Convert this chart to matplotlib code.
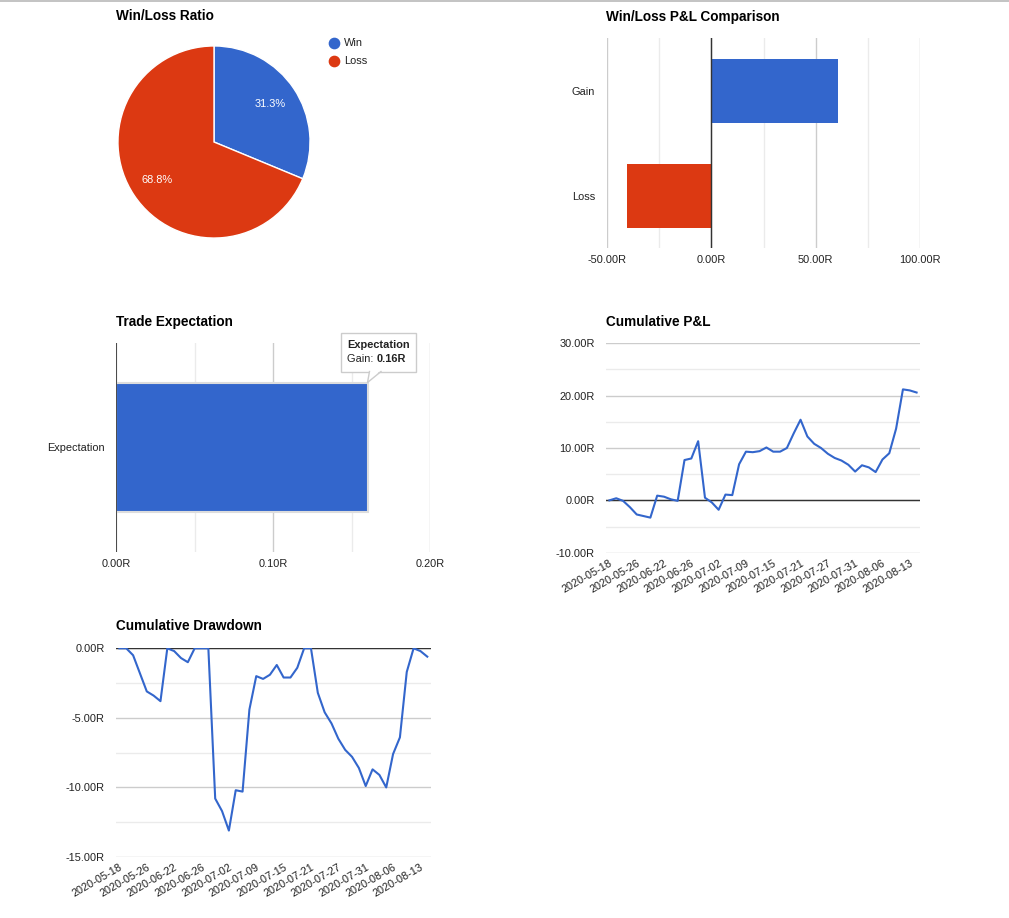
import matplotlib
matplotlib.use('Agg')
import matplotlib.pyplot as plt
from matplotlib.lines import Line2D
from matplotlib.patches import Polygon, Rectangle
from matplotlib.ticker import MultipleLocator, FuncFormatter

plt.rcParams['font.family'] = ['Liberation Sans', 'DejaVu Sans']

W, H = 1009, 918
BLUE = '#3366cc'
RED = '#dc3912'
FS = 7.9        # ~11px
TITLE_FS = 9.8  # ~13.6px
TXT = '#222222'

######################### data ################################################
WIN_LOSS_LABELS = ['Win', 'Loss']
WIN_LOSS_COUNTS = [5, 11]

PNL_CATEGORIES = ['Gain', 'Loss']
PNL_VALUES = [60.8, -40.5]

EXPECTATION_LABEL = 'Expectation'
EXPECTATION = 0.16

TICK_DATES = ['2020-05-18', '2020-05-26', '2020-06-22', '2020-06-26', '2020-07-02', '2020-07-09',
              '2020-07-15', '2020-07-21', '2020-07-27', '2020-07-31', '2020-08-06', '2020-08-13']

CUM_PNL = [0.0, 0.4, -0.1, -1.3, -2.7, -3.0, -3.3, 0.9, 0.7, 0.2,
           -0.1, 7.7, 8.0, 11.3, 0.5, -0.4, -1.8, 1.1, 1.0, 6.9,
           9.3, 9.2, 9.4, 10.1, 9.3, 9.3, 10.0, 12.8, 15.4, 12.2,
           10.8, 10.0, 8.9, 8.1, 7.6, 6.8, 5.5, 6.7, 6.3, 5.4,
           7.8, 9.0, 13.7, 21.2, 21.0, 20.6]

DRAWDOWN = [0.0, 0.0, -0.5, -1.8, -3.1, -3.4, -3.8, 0.0, -0.2, -0.7,
            -1.0, 0.0, 0.0, 0.0, -10.8, -11.7, -13.1, -10.2, -10.3, -4.4,
            -2.0, -2.2, -1.9, -1.2, -2.1, -2.1, -1.4, 0.0, 0.0, -3.2,
            -4.6, -5.4, -6.5, -7.3, -7.8, -8.6, -9.9, -8.7, -9.1, -10.0,
            -7.6, -6.4, -1.7, 0.0, -0.2, -0.6]


def box(l, t, r, b):
    # pixel box (from top-left) -> figure fraction rect
    return [l / W, 1 - b / H, (r - l) / W, (b - t) / H]


def r_fmt(dec):
    return FuncFormatter(lambda v, p: f'{v + 0.0:.{dec}f}R')


def no_spines(ax):
    for s in ax.spines.values():
        s.set_visible(False)


fig = plt.figure(figsize=(W / 100, H / 100), dpi=100)
fig.add_artist(Rectangle((0, 1 - 2 / H), 1, 2 / H, transform=fig.transFigure, color='#c4c4c4', lw=0))

titles = [('Win/Loss Ratio', 116, 20.5), ('Win/Loss P&L Comparison', 606, 20.5),
          ('Trade Expectation', 116, 325.5), ('Cumulative P&L', 606, 325.5),
          ('Cumulative Drawdown', 116, 630.5)]
for t, x, y in titles:
    fig.text(x / W, 1 - y / H, t, fontsize=TITLE_FS, fontweight='bold', va='baseline', color='black')

########################## pie ################################################
ax1 = fig.add_axes(box(117, 45, 311, 239))
ax1.pie(WIN_LOSS_COUNTS, colors=[BLUE, RED], startangle=90, counterclock=False,
        autopct=lambda p: f'{p + 1e-6:.1f}%', pctdistance=0.71,
        wedgeprops=dict(edgecolor='white', linewidth=1),
        textprops=dict(color='white', fontsize=FS))
ax1.set_xlim(-1.01, 1.01)
ax1.set_ylim(-1.01, 1.01)

for i, (lab, c) in enumerate(zip(WIN_LOSS_LABELS, [BLUE, RED])):
    y = 43 + i * 18
    fig.add_artist(Line2D([334 / W], [1 - y / H], marker='o', ms=7.4, color=c, ls='',
                          transform=fig.transFigure))
    fig.text(344 / W, 1 - y / H, lab, fontsize=FS, color=TXT, va='center')

########################## P&L comparison #####################################
ax2 = fig.add_axes(box(606.7, 38.3, 920.3, 248.3))
ax2.barh(range(len(PNL_VALUES)), PNL_VALUES, height=0.613, color=[BLUE, RED], zorder=2)
ax2.set_xlim(-50, 100)
ax2.set_ylim(1.5, -0.5)
ax2.xaxis.set_major_locator(MultipleLocator(50))
ax2.xaxis.set_minor_locator(MultipleLocator(25))
ax2.xaxis.set_major_formatter(r_fmt(2))
ax2.grid(which='major', axis='x', color='#cccccc', lw=1)
ax2.grid(which='minor', axis='x', color='#ebebeb', lw=1)
ax2.axvline(0, color='#333333', lw=1, zorder=3)
ax2.set_yticks(range(len(PNL_CATEGORIES)))
ax2.set_yticklabels(PNL_CATEGORIES)
ax2.tick_params(which='both', length=0, labelsize=FS, labelcolor=TXT)
ax2.tick_params(axis='y', pad=8.5)
ax2.tick_params(axis='x', pad=5)
ax2.set_axisbelow(True)
no_spines(ax2)

########################## expectation ########################################
ax3 = fig.add_axes(box(116.3, 342.7, 430.3, 552.3))
ax3.barh([0], [EXPECTATION], height=0.62, color=BLUE, edgecolor='#dddddd', lw=1.5, zorder=2)
ax3.set_xlim(0, 0.2)
ax3.set_ylim(-0.5, 0.5)
ax3.xaxis.set_major_locator(MultipleLocator(0.1))
ax3.xaxis.set_minor_locator(MultipleLocator(0.05))
ax3.xaxis.set_major_formatter(r_fmt(2))
ax3.grid(which='major', axis='x', color='#cccccc', lw=1)
ax3.grid(which='minor', axis='x', color='#ebebeb', lw=1)
ax3.axvline(0, color='#333333', lw=1.2, zorder=3)
ax3.set_yticks([0])
ax3.set_yticklabels([EXPECTATION_LABEL])
ax3.tick_params(which='both', length=0, labelsize=FS, labelcolor=TXT)
ax3.tick_params(axis='y', pad=8)
ax3.tick_params(axis='x', pad=5)
ax3.set_axisbelow(True)
no_spines(ax3)

# tooltip anchored at the end of the bar
ax_x, ax_y = ax3.transData.transform((EXPECTATION, 0.31))
bl, br, bb, bt = ax_x - 26.6, ax_x + 48.7, ax_y + 11, ax_y + 49.4
fig.add_artist(Rectangle(((bl + 1) / W, (bb - 1.5) / H), (br - bl) / W, (bt - bb) / H,
                         transform=fig.transFigure, facecolor='#e6e6e6', edgecolor='none', zorder=10))
fig.add_artist(Rectangle((bl / W, bb / H), (br - bl) / W, (bt - bb) / H,
                         transform=fig.transFigure, facecolor='white', edgecolor='#cccccc', lw=1, zorder=11))
ptr = [(ax_x, ax_y), (ax_x + 2, bb), (ax_x + 13.5, bb)]
fig.add_artist(Polygon([(px / W, py / H) for px, py in [(ax_x, ax_y), (ax_x + 2, bb + 1.5), (ax_x + 13.5, bb + 1.5)]],
                       closed=True, transform=fig.transFigure, facecolor='white', edgecolor='none', zorder=12))
fig.add_artist(Line2D([ptr[1][0] / W, ptr[0][0] / W, ptr[2][0] / W], [ptr[1][1] / H, ptr[0][1] / H, ptr[2][1] / H],
                      transform=fig.transFigure, color='#cccccc', lw=1, zorder=13))
fig.text((ax_x - 20.3) / W, (ax_y + 37.7) / H, 'Expectation', fontsize=FS, fontweight='bold',
         va='center', color=TXT, zorder=14)
fig.text((ax_x - 20.3) / W, (ax_y + 23.7) / H, 'Gain: ', fontsize=FS, va='center', color=TXT, zorder=14)
fig.text((ax_x + 9.4) / W, (ax_y + 23.7) / H, f'{EXPECTATION:.2f}R', fontsize=FS, fontweight='bold',
         va='center', color=TXT, zorder=14)


########################## line charts ########################################
def line_chart(ax, values, ymin, ymax, step):
    ax.plot(range(len(values)), values, color=BLUE, lw=1.5, zorder=4)
    ax.set_xlim(-0.5, len(values) - 0.5)
    ax.set_ylim(ymin, ymax)
    ax.yaxis.set_major_locator(MultipleLocator(step))
    ax.yaxis.set_minor_locator(MultipleLocator(step / 2))
    ax.yaxis.set_major_formatter(r_fmt(2))
    ax.grid(which='major', axis='y', color='#cccccc', lw=1)
    ax.grid(which='minor', axis='y', color='#ebebeb', lw=1)
    ax.axhline(0, color='#333333', lw=1, zorder=3)
    ax.set_xticks(range(0, len(values), 4))
    ax.set_xticklabels(TICK_DATES, rotation=30, ha='right', va='top', rotation_mode='anchor')
    ax.tick_params(which='both', length=0, labelsize=FS, labelcolor=TXT)
    ax.tick_params(axis='y', pad=8)
    ax.tick_params(axis='x', pad=4)
    ax.set_axisbelow(True)
    no_spines(ax)


ax4 = fig.add_axes(box(606, 343.3, 920, 552.7))
line_chart(ax4, CUM_PNL, -10, 30, 10)

ax5 = fig.add_axes(box(116, 648.3, 430.7, 857))
line_chart(ax5, DRAWDOWN, -15, 0, 5)

fig.savefig('out.png', dpi=100)
